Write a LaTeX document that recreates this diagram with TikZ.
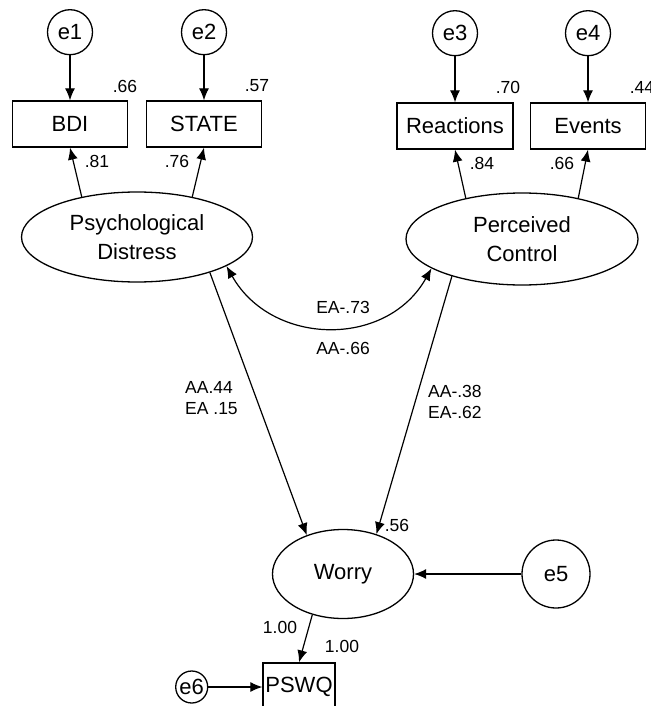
\documentclass[tikz,border=0pt]{standalone}
\usepackage{fontspec}
\setmainfont{Liberation Sans}
\usetikzlibrary{shapes,arrows.meta,positioning,calc}

\begin{document}
\begin{tikzpicture}[
    x=1pt, y=-1pt,
    every node/.style={font=\fontsize{22}{29}\selectfont},
    obs/.style={rectangle, draw, line width=1.3pt, minimum height=46pt, inner sep=0pt},
    latent/.style={ellipse, draw, line width=1.3pt, inner sep=0pt, align=center},
    err/.style={circle, draw, line width=1.3pt, inner sep=0pt, minimum size=45pt},
    coef/.style={font=\fontsize{17.5}{21}\selectfont, inner sep=0pt, align=left},
    arrow/.style={-{Latex[length=12pt,width=10pt]}, line width=1.2pt},
    biarrow/.style={{Latex[length=12pt,width=10pt]}-{Latex[length=12pt,width=10pt]}, line width=1.2pt}
]
    \useasboundingbox (0,0) rectangle (650,706);

    \node[obs, minimum width=115pt] (bdi) at (70,124) {BDI};
    \node[obs, minimum width=115pt] (state) at (204,124) {STATE};
    \node[obs, minimum width=116pt] (react) at (455,126) {Reactions};
    \node[obs, minimum width=115pt] (events) at (588,126) {Events};
    \node[err, above=45pt of bdi] (e1) {e1};
    \node[err, above=45pt of state] (e2) {e2};
    \node[err, above=46pt of react] (e3) {e3};
    \node[err, above=46pt of events] (e4) {e4};

    \node[latent, minimum width=231pt, minimum height=90pt] (psy) at (137,237) {Psychological\\Distress};
    \node[latent, minimum width=232pt, minimum height=92pt] (ctrl) at (522,239) {Perceived\\Control};
    \node[latent, minimum width=141pt, minimum height=89pt] (worry) at (343,574) {Worry};
    \node[err, minimum size=68pt] (e5) at (556,574) {e5};
    \node[obs, minimum width=72pt, minimum height=48pt] (pswq) at (299,687) {PSWQ};
    \node[err, minimum size=32pt, left=54pt of pswq] (e6) {e6};

    \draw[arrow] (e1) -- (bdi);
    \draw[arrow] (e2) -- (state);
    \draw[arrow] (e3) -- (react);
    \draw[arrow] (e4) -- (events);
    \draw[arrow] (psy.144) -- (bdi.south);
    \draw[arrow] (psy.36) -- (state.south);
    \draw[arrow] (ctrl.144) -- (react.south);
    \draw[arrow] (ctrl.36) -- (events.south);
    \draw[biarrow] (psy.-18) .. controls +(45,80) and +(-45,80) .. (ctrl.198);
    \draw[arrow] (psy.-26) -- (worry.133);
    \draw[arrow] (ctrl.208) -- (worry.50);
    \draw[arrow] (e5) -- (worry);
    \draw[arrow] (worry.-127) -- (pswq.north);
    \draw[arrow] (e6) -- (pswq);

    \node[coef] (r2bdi) at (125,86) {.66};
    \node[coef] (r2state) at (257,86) {.57};
    \node[coef] (r2react) at (508,87) {.70};
    \node[coef] (r2events) at (642,87) {.44};
    \node[coef] (lbdi) at (97,161) {.81};
    \node[coef] (lstate) at (177,161) {.76};
    \node[coef] (lreact) at (482,163) {.84};
    \node[coef] (levents) at (562,163) {.66};
    \node[coef] (cov1) at (343,307) {EA-.73};
    \node[coef] (cov2) at (343,348) {AA-.66};
    \node[coef, anchor=west] (bpsy) at (185,398) {AA.44\\EA .15};
    \node[coef, anchor=west] (bctrl) at (428,402) {AA-.38\\EA-.62};
    \node[coef] (r2worry) at (397,525) {.56};
    \node[coef] (lpswq) at (280,627) {1.00};
    \node[coef] (r2pswq) at (342,646) {1.00};
\end{tikzpicture}
\end{document}
